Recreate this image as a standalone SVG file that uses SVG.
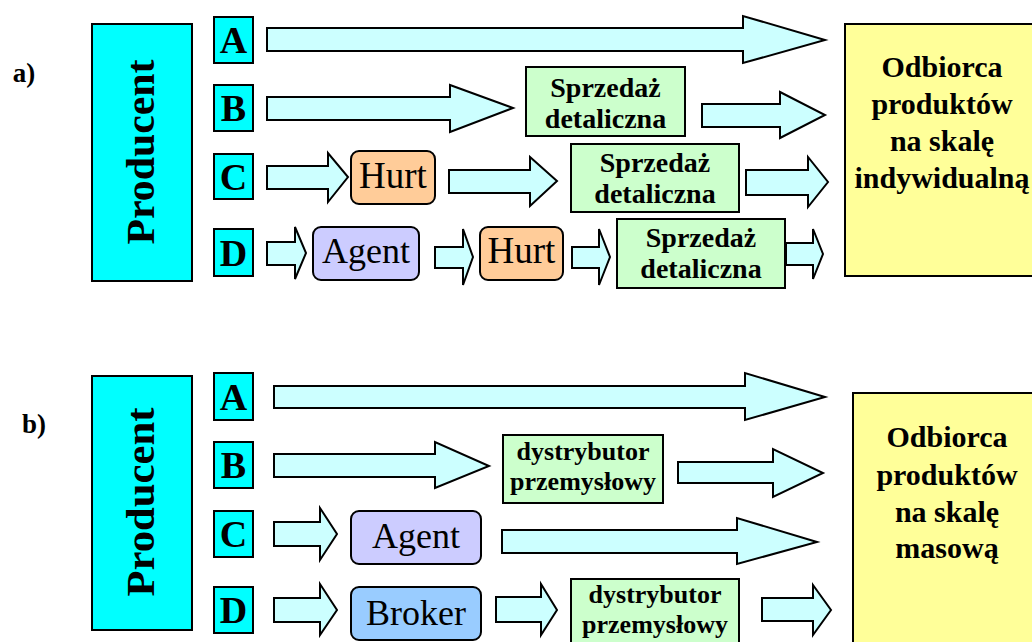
<svg xmlns="http://www.w3.org/2000/svg" width="1032" height="642" viewBox="0 0 1032 642">
<style>
.box{stroke:#000;stroke-width:2}
.cyan{fill:#00FFFF}
.green{fill:#CCFFCC}
.orange{fill:#FFCC99}
.lav{fill:#CCCCFF}
.blue{fill:#99CCFF}
.yellow{fill:#FFFF99}
.arr{fill:#CCFFFF;stroke:#000;stroke-width:2;stroke-linejoin:miter}
.b{font-weight:bold;fill:#000;text-anchor:middle}
.r{font-weight:normal;fill:#000;text-anchor:middle}
</style>
<rect width="1032" height="642" fill="#fff"/>
<g font-family="Liberation Serif, DejaVu Serif, serif">
<!-- Part a -->
<text class="b" x="24" y="82" font-size="27">a)</text>
<g id="a-producent">
<rect class="box cyan" x="92" y="24" width="100" height="257"/>
<text class="b" transform="translate(154,152) rotate(-90)" font-size="40" textLength="185" lengthAdjust="spacingAndGlyphs">Producent</text>
</g>
<g id="a-A"><rect class="box cyan" x="214" y="17" width="39" height="46"/><text class="b" x="233.5" y="53" font-size="38">A</text></g>
<g id="a-B"><rect class="box cyan" x="214" y="85" width="39" height="46"/><text class="b" x="233.5" y="121" font-size="38">B</text></g>
<g id="a-C"><rect class="box cyan" x="214" y="154" width="39" height="45"/><text class="b" x="233.5" y="190" font-size="38">C</text></g>
<g id="a-D"><rect class="box cyan" x="214" y="229" width="39" height="47"/><text class="b" x="233.5" y="266" font-size="38">D</text></g>
<g id="a-retailB"><rect class="box green" x="526" y="67" width="159" height="69"/><text class="b" x="605.5" y="97" font-size="28">Sprzedaż</text><text class="b" x="605.5" y="128" font-size="28">detaliczna</text></g>
<g id="a-hurtC"><rect class="box orange" x="351" y="151" width="84" height="53" rx="8"/><text class="r" x="393" y="188" font-size="37">Hurt</text></g>
<g id="a-retailC"><rect class="box green" x="571" y="144" width="168" height="68"/><text class="b" x="655" y="172" font-size="28">Sprzedaż</text><text class="b" x="655" y="203" font-size="28">detaliczna</text></g>
<g id="a-agentD"><rect class="box lav" x="313" y="227" width="106" height="53" rx="8"/><text class="r" x="366" y="263" font-size="36">Agent</text></g>
<g id="a-hurtD"><rect class="box orange" x="480" y="227" width="83" height="53" rx="8"/><text class="r" x="521.5" y="263" font-size="37">Hurt</text></g>
<g id="a-retailD"><rect class="box green" x="617" y="219" width="168" height="69"/><text class="b" x="701" y="247" font-size="28">Sprzedaż</text><text class="b" x="701" y="278" font-size="28">detaliczna</text></g>
<g id="a-odbiorca"><rect class="box yellow" x="845" y="24" width="200" height="252"/>
<text class="b" x="942" y="77" font-size="30">Odbiorca</text>
<text class="b" x="942" y="114" font-size="30">produktów</text>
<text class="b" x="942" y="151" font-size="30">na skalę</text>
<text class="b" x="942" y="188" font-size="30">indywidualną</text></g>

<!-- Part b -->
<text class="b" x="34" y="433" font-size="27">b)</text>
<g id="b-producent">
<rect class="box cyan" x="92" y="376" width="100" height="254"/>
<text class="b" transform="translate(154,502) rotate(-90)" font-size="40" textLength="189" lengthAdjust="spacingAndGlyphs">Producent</text>
</g>
<g id="b-A"><rect class="box cyan" x="214" y="373" width="39" height="47"/><text class="b" x="233.5" y="410" font-size="38">A</text></g>
<g id="b-B"><rect class="box cyan" x="214" y="442" width="39" height="46"/><text class="b" x="233.5" y="478" font-size="38">B</text></g>
<g id="b-C"><rect class="box cyan" x="214" y="511" width="39" height="46"/><text class="b" x="233.5" y="547" font-size="38">C</text></g>
<g id="b-D"><rect class="box cyan" x="214" y="587" width="39" height="46"/><text class="b" x="233.5" y="623" font-size="38">D</text></g>
<g id="b-distB"><rect class="box green" x="503" y="435" width="160" height="68"/><text class="b" x="583" y="460" font-size="26">dystrybutor</text><text class="b" x="583" y="490" font-size="26">przemysłowy</text></g>
<g id="b-agentC"><rect class="box lav" x="351" y="511" width="130" height="53" rx="8"/><text class="r" x="416" y="548" font-size="36">Agent</text></g>
<g id="b-brokerD"><rect class="box blue" x="351" y="587" width="130" height="53" rx="8"/><text class="r" x="416" y="625" font-size="36">Broker</text></g>
<g id="b-distD"><rect class="box green" x="571" y="579" width="168" height="70"/><text class="b" x="655" y="603" font-size="26">dystrybutor</text><text class="b" x="655" y="633" font-size="26">przemysłowy</text></g>
<g id="b-odbiorca"><rect class="box yellow" x="853" y="393" width="200" height="260"/>
<text class="b" x="947" y="447" font-size="30">Odbiorca</text>
<text class="b" x="947" y="485" font-size="30">produktów</text>
<text class="b" x="947" y="522" font-size="30">na skalę</text>
<text class="b" x="947" y="558" font-size="30">masową</text></g>
</g>
<g id="connectors">
<polygon class="arr" points="267,28 743,28 743,16 825,40 743,63 743,51 267,51"/>
<polygon class="arr" points="267,97 450,97 450,85 513,108 450,132 450,120 267,120"/>
<polygon class="arr" points="702,104 780,104 780,92 825,115 780,138 780,127 702,127"/>
<polygon class="arr" points="267,166 328,166 328,153 348,177 328,202 328,189 267,189"/>
<polygon class="arr" points="449,170 530,170 530,157 557,181 530,206 530,193 449,193"/>
<polygon class="arr" points="746,170 808,170 808,157 828,182 808,207 808,195 746,195"/>
<polygon class="arr" points="267,242 295,242 295,227 306,253 295,279 295,265 267,265"/>
<polygon class="arr" points="435,247 463,247 463,229 473,257 463,285 463,268 435,268"/>
<polygon class="arr" points="572,247 599,247 599,229 610,257 599,285 599,268 572,268"/>
<polygon class="arr" points="786,243 813,243 813,229 823,254 813,279 813,265 786,265"/>

<polygon class="arr" points="274,386 745,386 745,373 825,397 745,420 745,408 274,408"/>
<polygon class="arr" points="274,454 435,454 435,442 489,466 435,488 435,477 274,477"/>
<polygon class="arr" points="678,462 773,462 773,449 823,473 773,497 773,483 678,483"/>
<polygon class="arr" points="274,522 320,522 320,508 337,534 320,560 320,546 274,546"/>
<polygon class="arr" points="502,530 737,530 737,518 817,542 737,564 737,553 502,553"/>
<polygon class="arr" points="274,598 320,598 320,584 337,610 320,635 320,622 274,622"/>
<polygon class="arr" points="496,597 541,597 541,584 557,610 541,635 541,622 496,622"/>
<polygon class="arr" points="762,598 813,598 813,585 831,610 813,635 813,621 762,621"/>
</g>
</svg>
